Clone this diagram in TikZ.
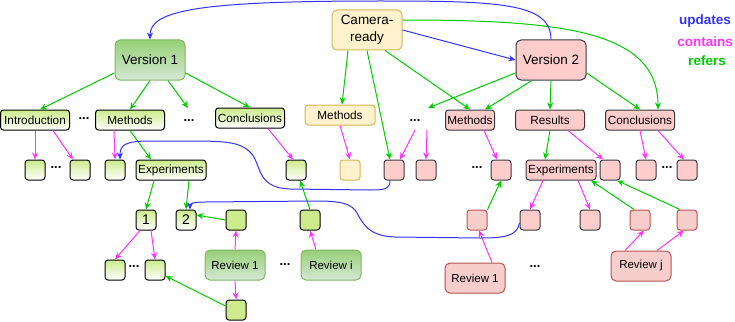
\documentclass[tikz,border=0pt]{standalone}
\usepackage{xcolor}
\usepackage{fontspec}
\setmainfont{Liberation Sans}
\usetikzlibrary{arrows.meta}

\definecolor{updblue}{HTML}{3333FF}
\definecolor{conpink}{HTML}{FF33FF}
\definecolor{refgreen}{HTML}{00CC00}
\definecolor{v1top}{HTML}{97D077}
\definecolor{v1bot}{HTML}{D5E8D4}
\definecolor{v1edge}{HTML}{82B366}
\definecolor{partgreen}{HTML}{CDEB8B}
\definecolor{camfill}{HTML}{FFF2CC}
\definecolor{camedge}{HTML}{D6B656}
\definecolor{v2fill}{HTML}{FFCCCC}
\definecolor{darkedge}{HTML}{36393D}
\definecolor{revfill}{HTML}{F8CECC}
\definecolor{revedge}{HTML}{B85450}

\begin{document}
\begin{tikzpicture}[
  x=1pt, y=-1pt,
  bigbox/.style={
    rectangle,
    rounded corners=5pt,
    line width=1pt,
    minimum width=70pt,
    minimum height=40pt,
    inner sep=0pt,
    align=center,
    font=\fontsize{13.5}{17}\selectfont
  },
  partbox/.style={
    rectangle,
    rounded corners=3pt,
    line width=1pt,
    minimum height=20pt,
    inner sep=0pt,
    font=\fontsize{11.8}{14}\selectfont
  },
  sqbox/.style={
    partbox,
    minimum width=20pt
  },
  revbox/.style={
    bigbox,
    minimum width=60pt,
    minimum height=30pt,
    font=\fontsize{11.5}{14}\selectfont
  },
  v1big/.style={draw=v1edge, top color=v1top, bottom color=v1bot},
  v1part/.style={draw=black, top color=partgreen, bottom color=white},
  v1solid/.style={draw=black, fill=partgreen},
  camready/.style={draw=camedge, fill=camfill},
  v2part/.style={draw=darkedge, fill=v2fill},
  v2rev/.style={draw=revedge, fill=revfill},
  more/.style={inner sep=0pt, font=\fontsize{13}{13}\bfseries},
  legend/.style={inner sep=0pt, font=\fontsize{13.5}{16}\bfseries},
  updates/.style={-{Stealth[length=7pt,width=6pt]}, line width=1pt, draw=updblue},
  contains/.style={-{Stealth[length=7pt,width=6pt]}, line width=1pt, draw=conpink},
  refers/.style={-{Stealth[length=7pt,width=6pt]}, line width=1pt, draw=refgreen}
]
  \useasboundingbox (0,0) rectangle (735,321);

  % Versions
  \node[bigbox, v1big] (v1) at (150,60) {Version 1};
  \node[bigbox, camready] (cam) at (367,30) {Camera-\\ready};
  \node[bigbox, v2part] (v2) at (551,60) {Version 2};

  % Legend
  \node[legend, text=updblue] (lupd) at (705,21) {updates};
  \node[legend, text=conpink] (lcon) at (705,42) {contains};
  \node[legend, text=refgreen] (lref) at (707,61) {refers};

  % Sections of version 1
  \node[partbox, v1part, minimum width=69pt] (intro) at (35,120) {Introduction};
  \node[more] (dots1) at (84,119) {...};
  \node[partbox, v1part, minimum width=69pt] (m1) at (130,120) {Methods};
  \coordinate (v1more) at (188,108);
  \node[more] (dots2) at (189,121) {...};
  \node[partbox, v1part, minimum width=69pt] (c1) at (250,118) {Conclusions};

  % Sections of camera-ready and version 2
  \node[partbox, camready, minimum width=70pt] (camm) at (340,115) {Methods};
  \coordinate (v2more) at (428,108);
  \node[more] (dots3) at (415,121) {...};
  \node[partbox, v2part, minimum width=49pt] (m2) at (470,120) {Methods};
  \node[partbox, v2part, minimum width=69pt] (res) at (550,120) {Results};
  \node[partbox, v2part, minimum width=69pt] (c2) at (640,120) {Conclusions};

  % Paragraphs
  \node[sqbox, v1part] (s1) at (35,170) {};
  \node[more] (dots4) at (56,168) {...};
  \node[sqbox, v1part] (s2) at (80,170) {};
  \node[sqbox, v1part] (s3) at (115,170) {};
  \node[partbox, v1part, minimum width=70pt] (exp1) at (171,170) {Experiments};
  \node[sqbox, v1part] (s4) at (296,170) {};
  \node[sqbox, camready] (camsq) at (350,170) {};
  \node[sqbox, v2part] (pa) at (394,170) {};
  \node[sqbox, v2part] (pb) at (426,170) {};
  \node[more] (dots5) at (477,168) {...};
  \node[sqbox, v2part] (pc) at (501,170) {};
  \node[partbox, v2part, minimum width=70pt] (exp2) at (561,170) {Experiments};
  \node[sqbox, v2part] (pd) at (610,170) {};
  \node[sqbox, v2part] (pe) at (646,170) {};
  \node[more] (dots6) at (667,168) {...};
  \node[sqbox, v2part] (pf) at (687,170) {};

  % Experiments and review comments
  \node[sqbox, v1part, font=\fontsize{14}{14}\selectfont] (one) at (146,220) {1};
  \node[sqbox, v1part, font=\fontsize{14}{14}\selectfont] (two) at (186,220) {2};
  \node[sqbox, v1solid] (g1) at (236,220) {};
  \node[sqbox, v1solid] (g2) at (310,220) {};
  \node[sqbox, v2rev] (r1) at (477,220) {};
  \node[sqbox, v2part] (ph) at (530,220) {};
  \node[sqbox, v2part] (pi) at (590,220) {};
  \node[sqbox, v2rev] (r2) at (640,220) {};
  \node[sqbox, v2rev] (r3) at (687,220) {};

  \node[sqbox, v1part] (a1) at (115,270) {};
  \node[more] (dots7) at (134,267) {...};
  \node[sqbox, v1part] (b1) at (155,270) {};
  \node[revbox, v1big] (rev1) at (235,265) {Review 1};
  \node[more] (dots8) at (285,265) {...};
  \node[revbox, v1big] (revi) at (331,265) {Review i};
  \node[revbox, v2rev] (rev2) at (475,278) {Review 1};
  \node[more] (dots9) at (535,267) {...};
  \node[revbox, v2rev] (revj) at (641,266) {Review j};
  \node[sqbox, v1solid] (gb) at (236,310) {};

  % refers
  \draw[refers] (v1.200) -- ([xshift=5pt]intro.north);
  \draw[refers] (v1.south) -- (m1.north);
  \draw[refers] ([xshift=18pt]v1.south) -- (v1more);
  \draw[refers] (v1.-20) -- (c1.north);
  \draw[refers] ([xshift=-19pt]cam.south) -- ([xshift=2pt]camm.north);
  \draw[refers] (cam.south) -- ([xshift=-4pt]pa.north);
  \draw[refers] ([xshift=18pt]cam.south) -- (m2.north);
  \draw[refers] ([yshift=10pt]cam.east) .. controls (560,20) and (658,30) .. ([xshift=18pt]c2.north);
  \draw[refers] (v2.200) -- (v2more);
  \draw[refers] ([xshift=-19pt]v2.south) -- ([xshift=15pt]m2.north);
  \draw[refers] (v2.south) -- (res.north);
  \draw[refers] (v2.-20) -- (c2.north);
  \draw[refers] (m1.south) -- ([xshift=-20pt]exp1.north);
  \draw[refers] (res.south) -- ([xshift=-16pt]exp2.north);
  \draw[refers] ([xshift=-17pt]exp1.south) -- (one.north);
  \draw[refers] ([xshift=18pt]exp1.south) -- (two.north);
  \draw[refers] (g1.west) -- ([yshift=5pt]two.east);
  \draw[refers] (g2.north) -- ([xshift=4pt]s4.south);
  \draw[refers] ([yshift=4pt]gb.west) -- ([yshift=-6pt]b1.east);
  \draw[refers] (r1.north east) -- (pc.south);
  \draw[refers] ([xshift=-6pt]r2.north) -- ([xshift=30pt]exp2.south);
  \draw[refers] ([xshift=-7pt]r3.north) -- ([xshift=7pt]pd.south);

  % contains
  \draw[contains] (intro.south) -- (s1.north);
  \draw[contains] ([xshift=18pt]intro.south) -- ([xshift=-7pt]s2.north);
  \draw[contains] ([xshift=-16pt]m1.south) -- (s3.north);
  \draw[contains] ([xshift=18pt]c1.south) -- ([xshift=-3pt]s4.north);
  \draw[contains] (camm.south) -- (camsq.north);
  \draw[contains] ([yshift=-9pt]dots3.center) -- ([xshift=6pt]pa.north);
  \draw[contains] ([xshift=12pt,yshift=-9pt]dots3.center) -- (pb.north);
  \draw[contains] ([xshift=14pt]m2.south) -- ([xshift=-4pt]pc.north);
  \draw[contains] ([xshift=18pt]res.south) -- ([xshift=-7pt]pd.north);
  \draw[contains] (c2.south) -- (pe.north);
  \draw[contains] ([xshift=18pt]c2.south) -- ([xshift=-3pt]pf.north);
  \draw[contains] ([xshift=-6pt]one.south) -- (a1.north);
  \draw[contains] ([xshift=5pt]one.south) -- (b1.north);
  \draw[contains] (rev1.north) -- (g1.south);
  \draw[contains] (rev1.south) -- (gb.north);
  \draw[contains] ([xshift=-15pt]revi.north) -- (g2.south);
  \draw[contains] ([xshift=-18pt]exp2.south) -- (ph.north);
  \draw[contains] ([xshift=17pt]exp2.south) -- (pi.north);
  \draw[contains] ([xshift=17pt]rev2.north) -- ([xshift=2pt]r1.south);
  \draw[contains] ([xshift=-16pt]revj.north) -- ([xshift=4pt]r2.south);
  \draw[contains] ([xshift=16pt]revj.north) -- ([xshift=-3pt]r3.south);

  % updates
  \draw[updates] (v2.north) .. controls (551,3) and (500,1) .. (380,1)
    .. controls (200,1) and (150,10) .. (v1.north);
  \draw[updates] (cam.east) -- (v2.west);
  \draw[updates] ([xshift=-4pt]pa.south) .. controls (390,189) and (385,190) .. (370,190)
    -- (290,189) .. controls (255,188) and (262,163) .. (250,152)
    .. controls (240,142) and (225,141) .. (190,141) -- (150,141)
    .. controls (125,141) and (120,145) .. ([xshift=5pt]s3.north);
  \draw[updates] ([yshift=-3pt]ph.west) .. controls (517,236) and (505,238) .. (480,238)
    -- (395,237) .. controls (365,236) and (362,220) .. (355,210)
    .. controls (348,202) and (335,201) .. (315,201) -- (205,202)
    .. controls (192,202) and (190,204) .. ([xshift=4pt]two.north);

\end{tikzpicture}
\end{document}
